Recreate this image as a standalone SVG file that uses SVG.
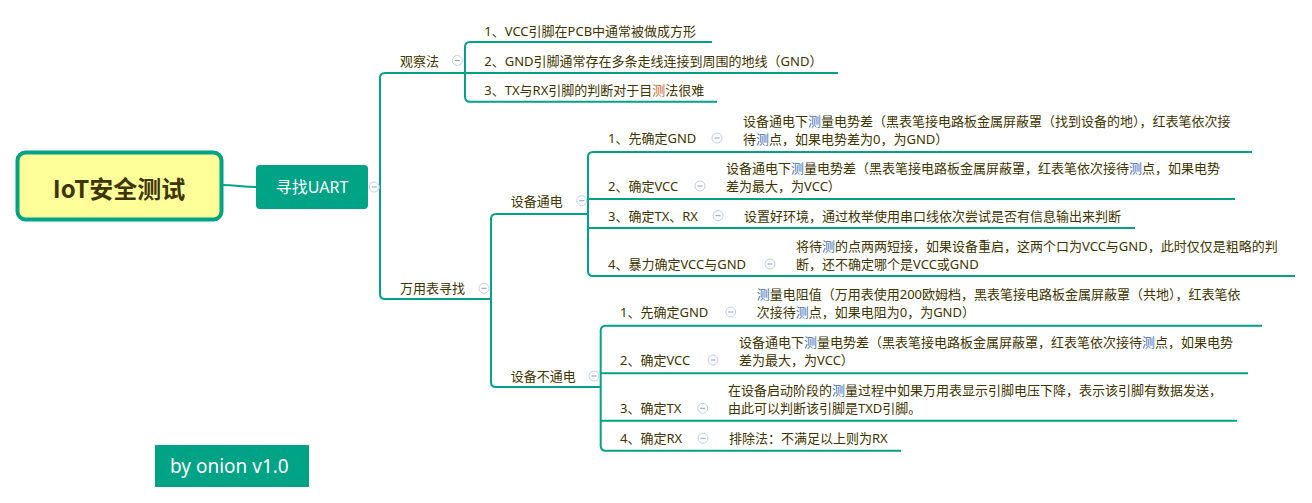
<svg xmlns="http://www.w3.org/2000/svg" width="1312" height="503" viewBox="0 0 1312 503">
  <defs>
    <style>
      .t { font-family: "Noto Sans", "Noto Sans CJK SC", sans-serif; font-size: 13px; fill: #3e3500; dominant-baseline: central; }
      .b { fill: #3d6fb8; }
      .o { fill: #bf6a2e; }
      .link { fill: none; stroke: #00a386; stroke-width: 2; }
      .fold circle { fill: #ffffff; stroke: #c3cbea; stroke-width: 1; }
      .fold line { stroke: #8e9bd0; stroke-width: 1; }
    </style>
    <g id="fold" class="fold">
      <circle cx="0" cy="0" r="5"/>
      <line x1="-2.5" y1="0" x2="2.5" y2="0"/>
    </g>
  </defs>
  <rect width="1312" height="503" fill="#ffffff"/>

  <!-- connectors -->
  <g id="connectors">
    <path class="link" d="M222,185 C236,185 242,187 257,187"/>
    <!-- main trunk: 观察法 / 万用表寻找 -->
    <path class="link" d="M838,73 H385 Q380,73 380,78 V294 Q380,299 385,299 H491"/>
    <!-- 观察法 children -->
    <path class="link" d="M712,42 H470 Q465,42 465,47 V96.7 Q465,101.7 470,101.7 H717"/>
    <!-- 万用表寻找 children -->
    <path class="link" d="M588,214 H496 Q491,214 491,219 V382 Q491,387 496,387 H601"/>
    <!-- 设备通电 children -->
    <path class="link" d="M1252,152 H593 Q588,152 588,157 V271 Q588,276 593,276 H1295"/>
    <path class="link" d="M588,199 H1235"/>
    <path class="link" d="M588,228 H1135"/>
    <!-- 设备不通电 children -->
    <path class="link" d="M1262,325.7 H605.7 Q600.7,325.7 600.7,330.7 V445.7 Q600.7,450.7 605.7,450.7 H901"/>
    <path class="link" d="M600.7,373.3 H1248"/>
    <path class="link" d="M600.7,420.7 H1237"/>
  </g>

  <!-- central topic -->
  <g id="root">
    <rect x="17.5" y="152.5" width="204" height="67" rx="8" fill="#ffff99" stroke="#00a386" stroke-width="4"/>
    <text x="119" y="187.5" text-anchor="middle" font-family="'Noto Sans CJK SC', sans-serif" font-size="24" font-weight="bold" fill="#3e3500" dominant-baseline="central">IoT安全测试</text>
  </g>

  <g id="find-uart">
    <rect x="256" y="165" width="112" height="44" rx="4" fill="#00a386"/>
    <text x="312" y="187" text-anchor="middle" font-family="'Noto Sans', 'Noto Sans CJK SC', sans-serif" font-size="16" fill="#ffffff" dominant-baseline="central">寻找UART</text>
    <use href="#fold" x="374.3" y="187"/>
  </g>

  <g id="observe">
    <text class="t" x="400" y="60.5">观察法</text>
    <use href="#fold" x="457.3" y="60.5"/>
  </g>
  <g id="observe-1">
    <text class="t" x="484.3" y="30.7">1、VCC引脚在PCB中通常被做成方形</text>
  </g>
  <g id="observe-2">
    <text class="t" x="484.3" y="60.7">2、GND引脚通常存在多条走线连接到周围的地线（GND）</text>
  </g>
  <g id="observe-3">
    <text class="t" x="484.3" y="90">3、TX与RX引脚的判断对于目<tspan class="o">测</tspan>法很难</text>
  </g>

  <g id="multimeter">
    <text class="t" x="400" y="288.3">万用表寻找</text>
    <use href="#fold" x="484" y="288.3"/>
  </g>

  <!-- powered device -->
  <g id="powered">
    <text class="t" x="510.7" y="200.7">设备通电</text>
    <use href="#fold" x="581.7" y="200.7"/>
  </g>
  <g id="powered-1">
    <text class="t" x="608" y="138">1、先确定GND</text>
    <use href="#fold" x="717" y="138"/>
    <text class="t" x="743" y="120.7">设备通电下<tspan class="b">测</tspan>量电势差（黑表笔接电路板金属屏蔽罩（找到设备的地），红表笔依次接</text>
    <text class="t" x="743" y="139">待<tspan class="b">测</tspan>点，如果电势差为0，为GND）</text>
  </g>
  <g id="powered-2">
    <text class="t" x="608" y="186">2、确定VCC</text>
    <use href="#fold" x="700" y="186"/>
    <text class="t" x="726" y="168">设备通电下<tspan class="b">测</tspan>量电势差（黑表笔接电路板金属屏蔽罩，红表笔依次接待<tspan class="b">测</tspan>点，如果电势</text>
    <text class="t" x="726" y="186">差为最大，为VCC）</text>
  </g>
  <g id="powered-3">
    <text class="t" x="608" y="215.7">3、确定TX、RX</text>
    <use href="#fold" x="718" y="215.7"/>
    <text class="t" x="744" y="215.7">设置好环境，通过枚举使用串口线依次尝试是否有信息输出来判断</text>
  </g>
  <g id="powered-4">
    <text class="t" x="608" y="264">4、暴力确定VCC与GND</text>
    <use href="#fold" x="770" y="264"/>
    <text class="t" x="796" y="245.7">将待<tspan class="b">测</tspan>的点两两短接，如果设备重启，这两个口为VCC与GND，此时仅仅是粗略的判</text>
    <text class="t" x="796" y="264">断，还不确定哪个是VCC或GND</text>
  </g>

  <!-- unpowered device -->
  <g id="unpowered">
    <text class="t" x="510.7" y="376">设备不通电</text>
    <use href="#fold" x="594" y="376"/>
  </g>
  <g id="unpowered-1">
    <text class="t" x="620" y="312">1、先确定GND</text>
    <use href="#fold" x="730.7" y="312"/>
    <text class="t" x="756.7" y="294"><tspan class="b">测</tspan>量电阻值（万用表使用200欧姆档，黑表笔接电路板金属屏蔽罩（共地），红表笔依</text>
    <text class="t" x="756.7" y="312">次接待<tspan class="b">测</tspan>点，如果电阻为0，为GND）</text>
  </g>
  <g id="unpowered-2">
    <text class="t" x="620" y="360">2、确定VCC</text>
    <use href="#fold" x="713" y="360"/>
    <text class="t" x="739" y="341.7">设备通电下<tspan class="b">测</tspan>量电势差（黑表笔接电路板金属屏蔽罩，红表笔依次接待<tspan class="b">测</tspan>点，如果电势</text>
    <text class="t" x="739" y="360">差为最大，为VCC）</text>
  </g>
  <g id="unpowered-3">
    <text class="t" x="620" y="408.3">3、确定TX</text>
    <use href="#fold" x="702.7" y="408.3"/>
    <text class="t" x="728" y="390">在设备启动阶段的<tspan class="b">测</tspan>量过程中如果万用表显示引脚电压下降，表示该引脚有数据发送，</text>
    <text class="t" x="728" y="408.3">由此可以判断该引脚是TXD引脚。</text>
  </g>
  <g id="unpowered-4">
    <text class="t" x="620" y="438.3">4、确定RX</text>
    <use href="#fold" x="703" y="438.3"/>
    <text class="t" x="729" y="438.3">排除法：不满足以上则为RX</text>
  </g>

  <g id="signature">
    <rect x="155" y="445" width="154" height="42" fill="#00a386"/>
    <text x="170" y="466" font-family="'Noto Sans', 'Noto Sans CJK SC', sans-serif" font-size="19" fill="#ffffff" dominant-baseline="central">by onion v1.0</text>
  </g>
</svg>
